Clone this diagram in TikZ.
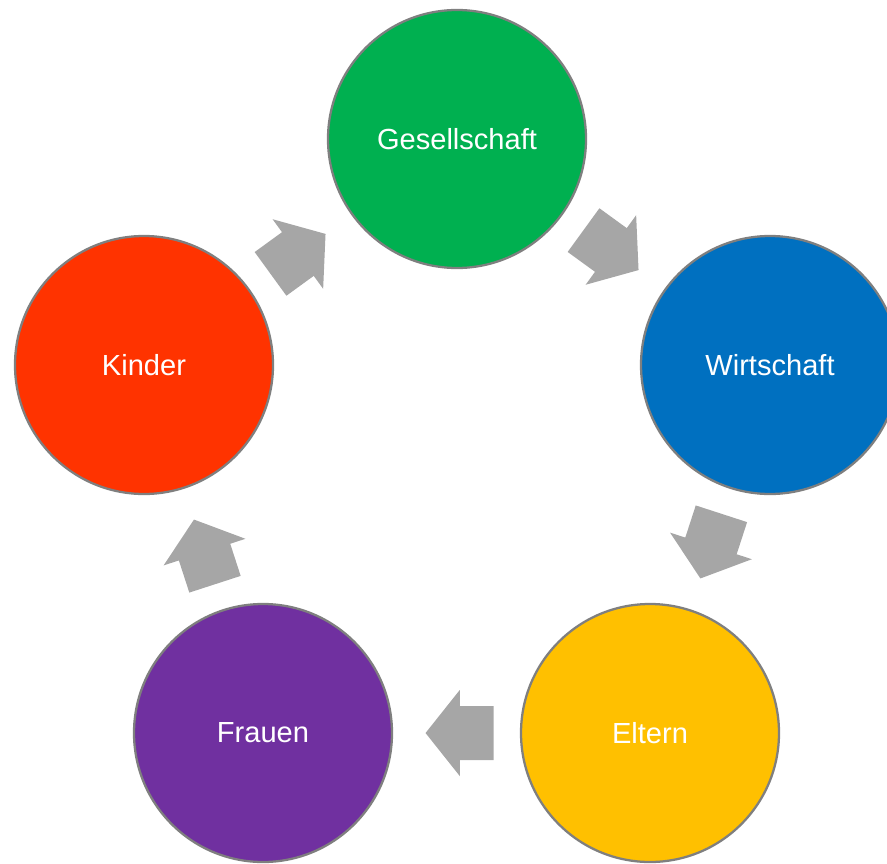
\documentclass[tikz,border=0pt]{standalone}
\usepackage{fontspec}
\setmainfont{Liberation Sans}
\usetikzlibrary{shapes.arrows,calc}

\tikzset{every picture/.style={line width=0.75pt}}
\tikzset{
  ball/.style={circle,draw={rgb, 255:red, 127; green, 127; blue, 127},line width=1.7pt,
    minimum size=193.5pt,inner sep=0pt,text=white,font=\fontsize{21.8}{26}\selectfont},
  flow/.style={single arrow,draw=none,fill={rgb, 255:red, 166; green, 166; blue, 166},
    minimum height=51pt,inner xsep=0pt,inner ysep=19.875pt,outer sep=0pt,
    single arrow head extend=12pt,single arrow tip angle=103,anchor=tip}
}

\begin{document}
\begin{tikzpicture}[x=0.75pt,y=0.75pt,yscale=-1,xscale=1]
\clip (0,0) rectangle (887,863);

%Shape: Circle
\node [ball,fill={rgb, 255:red, 0; green, 176; blue, 80}] (gesellschaft) at (457,139) {Gesellschaft};
%Shape: Circle
\node [ball,fill={rgb, 255:red, 0; green, 112; blue, 192}] (wirtschaft) at (770,365) {Wirtschaft};
%Shape: Circle
\node [ball,fill={rgb, 255:red, 255; green, 192; blue, 0}] (eltern) at (650,733) {Eltern};
%Shape: Circle
\node [ball,fill={rgb, 255:red, 112; green, 48; blue, 160}] (frauen) at (263,733) {Frauen};
%Shape: Circle
\node [ball,fill={rgb, 255:red, 255; green, 51; blue, 0}] (kinder) at (144,365) {Kinder};

%Shape: Right Arrow
\node [flow,rotate=36] (k2g) at ($(kinder)!0.58!(gesellschaft)$) {};
%Shape: Right Arrow
\node [flow,rotate=-36] (g2w) at ($(gesellschaft)!0.58!(wirtschaft)$) {};
%Shape: Right Arrow
\node [flow,rotate=-108] (w2e) at ($(wirtschaft)!0.58!(eltern)$) {};
%Shape: Right Arrow
\node [flow,rotate=180] (e2f) at ($(eltern)!0.58!(frauen)$) {};
%Shape: Right Arrow
\node [flow,rotate=108] (f2k) at ($(frauen)!0.58!(kinder)$) {};

\end{tikzpicture}
\end{document}
